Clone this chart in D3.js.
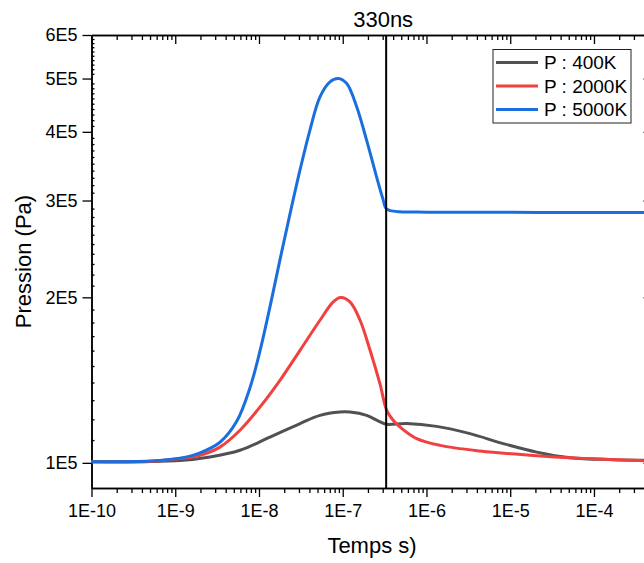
<!DOCTYPE html>
<html>
<head>
<meta charset="utf-8">
<script src="https://cdn.jsdelivr.net/npm/d3@7"></script>
<style>
  html, body { margin: 0; padding: 0; background: #fff; }
  text { font-family: "Liberation Sans", Arial, Helvetica, sans-serif; fill: #000; }
</style>
</head>
<body>
<svg id="chart" width="644" height="563"></svg>
<script>
// ---- data ----
const seriesNames = ["P : 400K", "P : 2000K", "P : 5000K"];
const seriesColors = ["#515151", "#F14040", "#1A6FDF"];

const tGray = [1e-10, 1.14e-9, 2.6e-9, 5.93e-9, 1.35e-8, 3.09e-8, 5.35e-8, 9.27e-8, 1.22e-7, 1.93e-7, 2.79e-7, 3.35e-7, 5.8e-7, 1.32e-6, 3.31e-6, 8.26e-6, 2.07e-5, 5.17e-5, 1.69e-4, 5e-4];
const pGray = [1.005e5, 1.01e5, 1.025e5, 1.054e5, 1.114e5, 1.179e5, 1.220e5, 1.237e5, 1.237e5, 1.220e5, 1.187e5, 1.175e5, 1.179e5, 1.165e5, 1.130e5, 1.084e5, 1.046e5, 1.022e5, 1.0135e5, 1.01e5];

const tRed = [1e-10, 5e-10, 1.14e-9, 1.98e-9, 3.42e-9, 5.93e-9, 1.03e-8, 1.78e-8, 3.09e-8, 5.35e-8, 7.71e-8, 9.45e-8, 1.22e-7, 1.61e-7, 2.12e-7, 2.79e-7, 3.35e-7, 4.0e-7, 4.83e-7, 7.64e-7, 1.45e-6, 4.35e-6, 1.72e-5, 6.8e-5, 5e-4];
const pRed = [1.005e5, 1.006e5, 1.018e5, 1.032e5, 1.068e5, 1.146e5, 1.264e5, 1.413e5, 1.602e5, 1.817e5, 1.962e5, 1.998e5, 1.962e5, 1.817e5, 1.602e5, 1.39e5, 1.246e5, 1.195e5, 1.162e5, 1.107e5, 1.076e5, 1.051e5, 1.032e5, 1.019e5, 1.008e5];

const tBlue = [1e-10, 5e-10, 1.14e-9, 1.98e-9, 3.42e-9, 5.42e-9, 7.81e-9, 1.03e-8, 1.35e-8, 1.78e-8, 2.35e-8, 3.09e-8, 4.06e-8, 5.35e-8, 7.04e-8, 8.85e-8, 1.11e-7, 1.47e-7, 1.93e-7, 2.54e-7, 3.0e-7, 3.3e-7, 3.7e-7, 4.8e-7, 1e-6, 1e-5, 1e-4, 5e-4];
const pBlue = [1.005e5, 1.008e5, 1.02e5, 1.043e5, 1.09e5, 1.19e5, 1.37e5, 1.60e5, 1.92e5, 2.34e5, 2.84e5, 3.41e5, 4.03e5, 4.63e5, 4.93e5, 5.00e5, 4.90e5, 4.44e5, 3.86e5, 3.31e5, 3.03e5, 2.90e5, 2.875e5, 2.862e5, 2.857e5, 2.855e5, 2.853e5, 2.852e5];

const xTickValues = [1e-10, 1e-9, 1e-8, 1e-7, 1e-6, 1e-5, 1e-4];
const xTickLabels = ["1E-10", "1E-9", "1E-8", "1E-7", "1E-6", "1E-5", "1E-4"];
const yTickValues = [1e5, 2e5, 3e5, 4e5, 5e5, 6e5];
const yTickLabels = ["1E5", "2E5", "3E5", "4E5", "5E5", "6E5"];

const markerTime = 3.3e-7;
const markerLabel = "330ns";
const xTitle = "Temps s)";
const yTitle = "Pression (Pa)";

// ---- layout ----
const svg = d3.select("#chart");
const L = 91.5, R = 652.5, T = 35, B = 488;

const x = d3.scaleLog().domain([1e-10, 5e-4]).range([L, R]);
const y = d3.scaleLog().domain([9e4, 6e5]).range([B, T]);

// minor ticks
const xMinor = [];
for (let e = -10; e <= -4; e++) for (let k = 2; k <= 9; k++) {
  const v = k * Math.pow(10, e);
  if (v <= 5e-4) xMinor.push(v);
}
const yMinor = [];
for (let r = 10; r < 60; r++) if (r % 10 !== 0) yMinor.push(r * 1e4);

const axisStyle = g => {
  g.selectAll("path.domain").attr("stroke", "#000").attr("stroke-width", 1.5);
  g.selectAll(".tick line").attr("stroke", "#000").attr("stroke-width", 1.3);
  g.selectAll(".tick text").style("font-size", "18px").style("font-family", "'Liberation Sans', Arial, sans-serif").attr("fill", "#000");
};

// bottom axis
svg.append("g").attr("transform", `translate(0,${B})`)
  .call(d3.axisBottom(x).tickValues(xMinor).tickSize(5).tickFormat("").tickSizeOuter(0))
  .call(axisStyle);
svg.append("g").attr("transform", `translate(0,${B})`)
  .call(d3.axisBottom(x).tickValues(xTickValues).tickSize(9).tickPadding(7)
        .tickFormat((d, i) => xTickLabels[i]).tickSizeOuter(0))
  .call(axisStyle);

// top axis (inward ticks)
svg.append("g").attr("transform", `translate(0,${T})`)
  .call(d3.axisBottom(x).tickValues(xMinor).tickSize(5).tickFormat("").tickSizeOuter(0))
  .call(axisStyle);
svg.append("g").attr("transform", `translate(0,${T})`)
  .call(d3.axisBottom(x).tickValues(xTickValues).tickSize(9).tickFormat("").tickSizeOuter(0))
  .call(axisStyle);

// left axis
svg.append("g").attr("transform", `translate(${L},0)`)
  .call(d3.axisRight(y).tickValues(yMinor).tickSize(3).tickFormat("").tickSizeOuter(0))
  .call(axisStyle);
svg.append("g").attr("transform", `translate(${L},0)`)
  .call(d3.axisLeft(y).tickValues(yTickValues).tickSize(9).tickPadding(5)
        .tickFormat((d, i) => yTickLabels[i]).tickSizeOuter(0))
  .call(axisStyle);

// right axis (inward ticks)
svg.append("g").attr("transform", `translate(${R},0)`)
  .call(d3.axisLeft(y).tickValues(yMinor).tickSize(4).tickFormat("").tickSizeOuter(0))
  .call(axisStyle);
svg.append("g").attr("transform", `translate(${R},0)`)
  .call(d3.axisLeft(y).tickValues(yTickValues).tickSize(9).tickFormat("").tickSizeOuter(0))
  .call(axisStyle);

// clip
svg.append("clipPath").attr("id", "plotclip")
  .append("rect").attr("x", L).attr("y", T).attr("width", R - L).attr("height", B - T);

const line = d3.line().x(d => x(d[0])).y(d => y(d[1])).curve(d3.curveCatmullRom.alpha(0.5));
const series = [
  d3.zip(tGray, pGray),
  d3.zip(tRed, pRed),
  d3.zip(tBlue, pBlue)
];
const plot = svg.append("g").attr("clip-path", "url(#plotclip)");
series.forEach((s, i) => {
  plot.append("path").datum(s)
    .attr("d", line)
    .attr("fill", "none")
    .attr("stroke", seriesColors[i])
    .attr("stroke-width", 3)
    .attr("stroke-linejoin", "round")
    .attr("stroke-linecap", "round");
});

// vertical marker line
svg.append("line")
  .attr("x1", x(markerTime)).attr("x2", x(markerTime))
  .attr("y1", T).attr("y2", B)
  .attr("stroke", "#000").attr("stroke-width", 2);
svg.append("text")
  .attr("x", x(markerTime) - 3).attr("y", 27)
  .attr("text-anchor", "middle")
  .style("font-size", "22px")
  .text(markerLabel);

// legend
const lg = svg.append("g");
lg.append("rect").attr("x", 493).attr("y", 49.5).attr("width", 138).attr("height", 73.5)
  .attr("fill", "#fff").attr("stroke", "#222").attr("stroke-width", 1);
seriesNames.forEach((name, i) => {
  const yy = 62.5 + i * 23.5;
  lg.append("line").attr("x1", 496).attr("x2", 538).attr("y1", yy).attr("y2", yy)
    .attr("stroke", seriesColors[i]).attr("stroke-width", 3);
  lg.append("text").attr("x", 544).attr("y", yy).attr("dy", "0.35em")
    .style("font-size", "19px").text(name);
});

// axis titles
svg.append("text")
  .attr("x", (L + R) / 2).attr("y", 553)
  .attr("text-anchor", "middle")
  .style("font-size", "22px")
  .text(xTitle);
svg.append("text")
  .attr("transform", `translate(31,${(T + B) / 2}) rotate(-90)`)
  .attr("text-anchor", "middle")
  .style("font-size", "22px")
  .text(yTitle);
</script>
</body>
</html>
